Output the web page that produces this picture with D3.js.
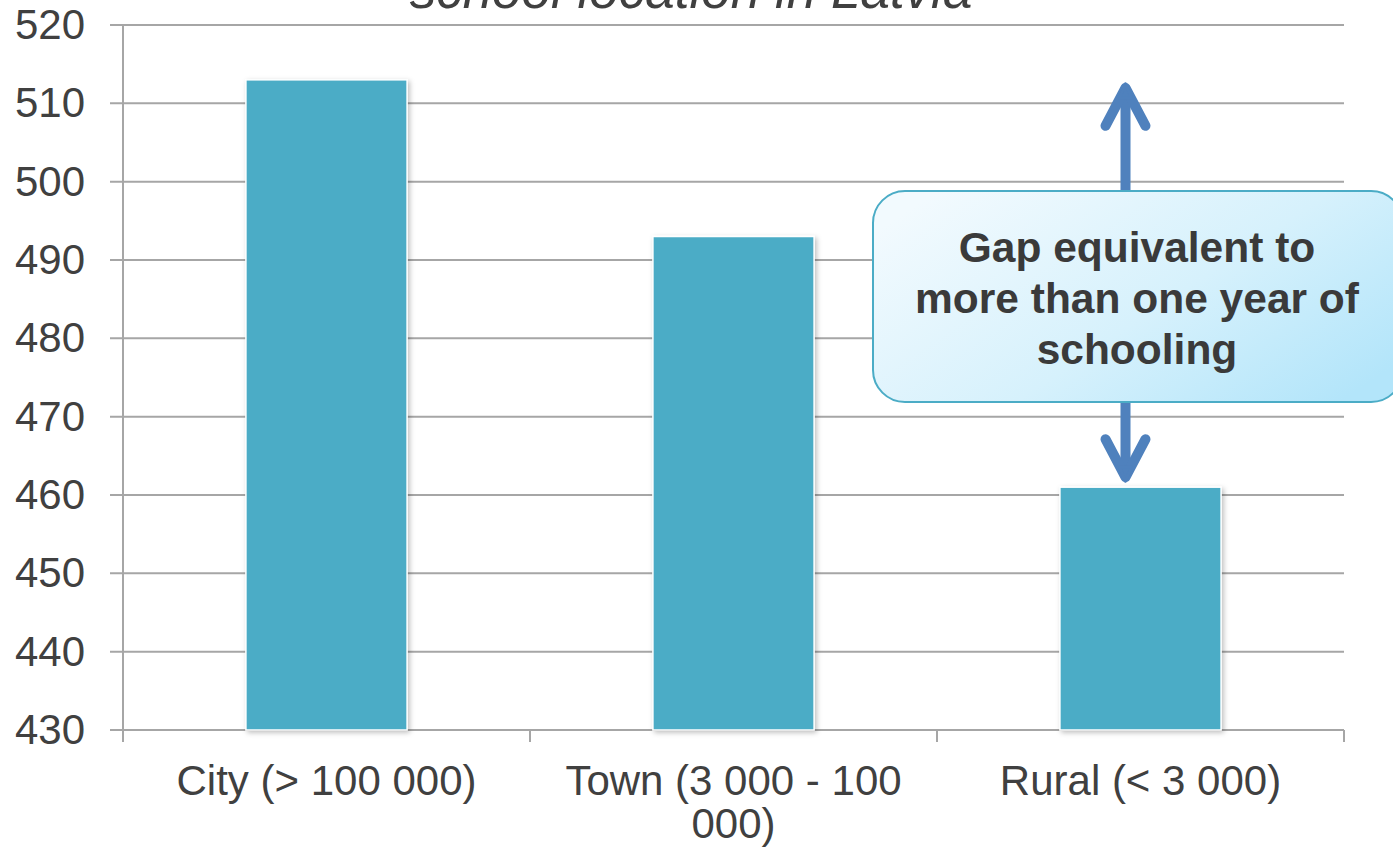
<!DOCTYPE html>
<html>
<head>
<meta charset="utf-8">
<script src="https://cdn.jsdelivr.net/npm/d3@7"></script>
<style>
  html, body { margin: 0; padding: 0; background: #ffffff; }
  svg { display: block; font-family: "Liberation Sans", Arial, sans-serif; }
</style>
</head>
<body>
<svg id="chart" width="1393" height="853"></svg>
<script>
// Mean score by school location
const categories = ["City (> 100 000)", "Town (3 000 - 100 000)", "Rural (< 3 000)"];
const categoryLines = [["City (> 100 000)"], ["Town (3 000 - 100", "000)"], ["Rural (< 3 000)"]];
const scores = [513, 493, 461];
const yTicks = [430, 440, 450, 460, 470, 480, 490, 500, 510, 520];
const titleText = "school location in Latvia";
const calloutLines = ["Gap equivalent to", "more than one year of", "schooling"];
// the arrow spans from the rural score up to the city score
const gapFrom = 461, gapTo = 513;

const svg = d3.select("#chart");
const margin = { left: 123, right: 1344, top: 25, bottom: 730 };

const x = d3.scaleBand()
  .domain(categories)
  .range([margin.left, margin.right])
  .paddingInner(0.604)
  .paddingOuter(0.302);

const y = d3.scaleLinear()
  .domain([430, 520])
  .range([margin.bottom, margin.top]);

const defs = svg.append("defs");

const shadow = defs.append("filter").attr("id", "barShadow")
  .attr("x", "-10%").attr("y", "-10%").attr("width", "130%").attr("height", "130%");
shadow.append("feDropShadow")
  .attr("dx", 2).attr("dy", 2).attr("stdDeviation", 2.5)
  .attr("flood-color", "#000").attr("flood-opacity", 0.25);

const grad = defs.append("linearGradient").attr("id", "calloutFill")
  .attr("x1", "0%").attr("y1", "20%").attr("x2", "100%").attr("y2", "80%");
grad.append("stop").attr("offset", "0%").attr("stop-color", "#f2fafe");
grad.append("stop").attr("offset", "55%").attr("stop-color", "#d6f1fc");
grad.append("stop").attr("offset", "100%").attr("stop-color", "#b3e5fa");

// horizontal gridlines
svg.append("g")
  .selectAll("line")
  .data(yTicks)
  .join("line")
  .attr("x1", margin.left - 13)
  .attr("x2", margin.right)
  .attr("y1", d => y(d))
  .attr("y2", d => y(d))
  .attr("stroke", "#a6a6a6")
  .attr("stroke-width", 2);

// y axis line
svg.append("line")
  .attr("x1", margin.left).attr("x2", margin.left)
  .attr("y1", margin.top).attr("y2", margin.bottom + 12)
  .attr("stroke", "#a6a6a6").attr("stroke-width", 2);

// category boundary ticks along the x axis
const boundaries = categories.map(c => x(c) + x.bandwidth() / 2 + x.step() / 2);
svg.append("g")
  .selectAll("line")
  .data(boundaries)
  .join("line")
  .attr("x1", d => d).attr("x2", d => d)
  .attr("y1", margin.bottom).attr("y2", margin.bottom + 12)
  .attr("stroke", "#a6a6a6").attr("stroke-width", 2);

// y tick labels
svg.append("g")
  .selectAll("text")
  .data(yTicks)
  .join("text")
  .attr("x", 85)
  .attr("y", d => y(d) + 14)
  .attr("text-anchor", "end")
  .attr("font-size", 42)
  .attr("fill", "#404040")
  .text(d => d);

// bars
svg.append("g")
  .selectAll("rect")
  .data(categories.map((c, i) => ({ c, v: scores[i] })))
  .join("rect")
  .attr("x", d => x(d.c))
  .attr("y", d => y(d.v))
  .attr("width", x.bandwidth())
  .attr("height", d => y(430) - y(d.v))
  .attr("fill", "#4bacc6")
  .attr("stroke", "#ffffff")
  .attr("stroke-width", 1.5)
  .attr("filter", "url(#barShadow)");

// x category labels
const xl = svg.append("g")
  .selectAll("text")
  .data(categories.map((c, i) => ({ c, lines: categoryLines[i] })))
  .join("text")
  .attr("text-anchor", "middle")
  .attr("font-size", 42)
  .attr("fill", "#404040");
xl.selectAll("tspan")
  .data(d => d.lines.map(l => ({ l, cx: x(d.c) + x.bandwidth() / 2 })))
  .join("tspan")
  .attr("x", d => d.cx)
  .attr("y", (d, i) => 795 + i * 43)
  .text(d => d.l);

// title (its upper part runs off the top of the canvas)
svg.append("text")
  .attr("x", 691)
  .attr("y", 8)
  .attr("text-anchor", "middle")
  .attr("font-size", 53)
  .attr("font-style", "italic")
  .attr("fill", "#404040")
  .text(titleText);

// double-headed gap arrow
const arrowX = x(categories[2]) + x.bandwidth() / 2 - 15;
const arrowColor = "#4f81bd";
const yTop = y(gapTo) + 4, yBot = y(gapFrom) - 6;
const arrow = svg.append("g")
  .attr("stroke", arrowColor).attr("stroke-width", 10)
  .attr("stroke-linecap", "round").attr("stroke-linejoin", "round")
  .attr("fill", "none");
arrow.append("line")
  .attr("x1", arrowX).attr("x2", arrowX)
  .attr("y1", yTop + 6).attr("y2", yBot - 6);
arrow.append("polyline")
  .attr("points", [[arrowX - 20, yTop + 42], [arrowX, yTop + 4], [arrowX + 20, yTop + 42]].join(" "));
arrow.append("polyline")
  .attr("points", [[arrowX - 20, yBot - 42], [arrowX, yBot - 4], [arrowX + 20, yBot - 42]].join(" "));
arrow.append("path")
  .attr("d", `M${arrowX - 6},${yTop + 14} L${arrowX},${yTop} L${arrowX + 6},${yTop + 14} Z`)
  .attr("fill", arrowColor).attr("stroke-width", 3);
arrow.append("path")
  .attr("d", `M${arrowX - 6},${yBot - 14} L${arrowX},${yBot} L${arrowX + 6},${yBot - 14} Z`)
  .attr("fill", arrowColor).attr("stroke-width", 3);

// callout box
svg.append("rect")
  .attr("x", 873).attr("y", 191)
  .attr("width", 530).attr("height", 211)
  .attr("rx", 32).attr("ry", 32)
  .attr("fill", "url(#calloutFill)")
  .attr("stroke", "#4bacc6").attr("stroke-width", 2);

svg.append("g")
  .selectAll("text")
  .data(calloutLines)
  .join("text")
  .attr("x", 1137)
  .attr("y", (d, i) => 262 + i * 51)
  .attr("text-anchor", "middle")
  .attr("font-size", 42.5)
  .attr("font-weight", "bold")
  .attr("fill", "#3a3a3a")
  .text(d => d);
</script>
</body>
</html>
